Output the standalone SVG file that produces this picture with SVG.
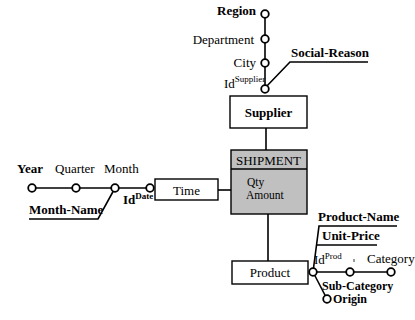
<svg xmlns="http://www.w3.org/2000/svg" width="415" height="320" viewBox="0 0 415 320">
  <style>
    text { font-family: 'Liberation Serif', 'DejaVu Serif', serif; font-size: 13px; fill: #000; }
    .b { font-weight: bold; }
    .s12 { font-size: 12px; }
    .m { font-size: 11.5px; }
    .sup { font-size: 9px; }
    .ln { stroke: #000; stroke-width: 1.6; fill: none; }
    .box { stroke: #000; stroke-width: 1.4; fill: #fff; }
    .fact { stroke: #000; stroke-width: 1.4; fill: #c0c0c0; }
    .lvl { stroke: #000; stroke-width: 1.8; fill: #fff; }
  </style>

  <!-- connectors and attribute lines -->
  <g id="connectors">
    <!-- supplier hierarchy -->
    <line class="ln" x1="265" y1="14" x2="265" y2="89"/>
    <polyline class="ln" points="265,88 290,62 368,62"/>
    <line class="ln" x1="266" y1="128" x2="266" y2="150"/>
    <!-- time hierarchy -->
    <line class="ln" x1="32" y1="188" x2="150" y2="188"/>
    <polyline class="ln" points="115,188 98,219 29,219"/>
    <line class="ln" x1="218" y1="190" x2="231" y2="190"/>
    <!-- product hierarchy -->
    <line class="ln" x1="268" y1="214" x2="268" y2="261"/>
    <polyline class="ln" points="313,272 319,226 397,226"/>
    <line class="ln" x1="316" y1="245" x2="377" y2="245"/>
    <line class="ln" x1="313" y1="272" x2="391" y2="272"/>
    <line class="ln" x1="313" y1="272" x2="327" y2="299"/>
    <line stroke="#000" stroke-width="0.8" x1="354" y1="259" x2="354" y2="262"/>
  </g>

  <!-- fact -->
  <g id="shipment">
    <rect class="fact" x="231" y="150" width="76" height="64"/>
    <line class="ln" x1="231" y1="169" x2="307" y2="169" stroke-width="1.2"/>
    <text x="236" y="165">SHIPMENT</text>
    <text class="m" x="247" y="186">Qty</text>
    <text class="m" x="246" y="199">Amount</text>
  </g>

  <!-- supplier dimension -->
  <g id="supplier">
    <rect class="box" x="230" y="96" width="77" height="32"/>
    <text class="b" x="268.5" y="117" text-anchor="middle">Supplier</text>
  </g>
  <g id="id-supplier">
    <circle class="lvl" cx="265" cy="89" r="3.8"/>
    <text x="224" y="88">Id<tspan class="sup" dy="-6">Supplier</tspan></text>
  </g>
  <g id="city">
    <circle class="lvl" cx="265" cy="63" r="3.8"/>
    <text x="256" y="67" text-anchor="end">City</text>
  </g>
  <g id="department">
    <circle class="lvl" cx="265" cy="39" r="3.8"/>
    <text x="254" y="44" text-anchor="end">Department</text>
  </g>
  <g id="region">
    <circle class="lvl" cx="265" cy="14" r="3.8"/>
    <text class="b" x="256" y="15" text-anchor="end">Region</text>
  </g>
  <g id="social-reason">
    <text class="b" x="291" y="57">Social-Reason</text>
  </g>

  <!-- time dimension -->
  <g id="time">
    <rect class="box" x="155" y="179" width="63" height="21"/>
    <text x="186.5" y="195" text-anchor="middle">Time</text>
  </g>
  <g id="id-date">
    <circle class="lvl" cx="150" cy="188" r="3.8"/>
    <text class="b" x="123" y="204">Id<tspan class="sup" dy="-5">Date</tspan></text>
  </g>
  <g id="month">
    <circle class="lvl" cx="115" cy="188" r="3.8"/>
    <text x="104" y="173">Month</text>
  </g>
  <g id="quarter">
    <circle class="lvl" cx="76" cy="188" r="3.8"/>
    <text x="55" y="173">Quarter</text>
  </g>
  <g id="year">
    <circle class="lvl" cx="32" cy="188" r="3.8"/>
    <text class="b" x="17" y="173">Year</text>
  </g>
  <g id="month-name">
    <text class="b" x="29" y="214">Month-Name</text>
  </g>

  <!-- product dimension -->
  <g id="product">
    <rect class="box" x="232" y="261" width="76" height="23"/>
    <text x="270" y="277" text-anchor="middle">Product</text>
  </g>
  <g id="id-prod">
    <circle class="lvl" cx="313" cy="272" r="3.8"/>
    <text x="314" y="264">Id<tspan class="sup" dy="-5">Prod</tspan></text>
  </g>
  <g id="sub-category">
    <circle class="lvl" cx="350" cy="272" r="3.8"/>
    <text class="b s12" x="322" y="290">Sub-Category</text>
  </g>
  <g id="category">
    <circle class="lvl" cx="391" cy="272" r="3.8"/>
    <text x="367" y="263">Category</text>
  </g>
  <g id="origin">
    <circle class="lvl" cx="327" cy="299" r="3.8"/>
    <text class="b s12" x="333" y="303">Origin</text>
  </g>
  <g id="product-name">
    <text class="b" x="318" y="221">Product-Name</text>
  </g>
  <g id="unit-price">
    <text class="b" x="322" y="240">Unit-Price</text>
  </g>
</svg>
